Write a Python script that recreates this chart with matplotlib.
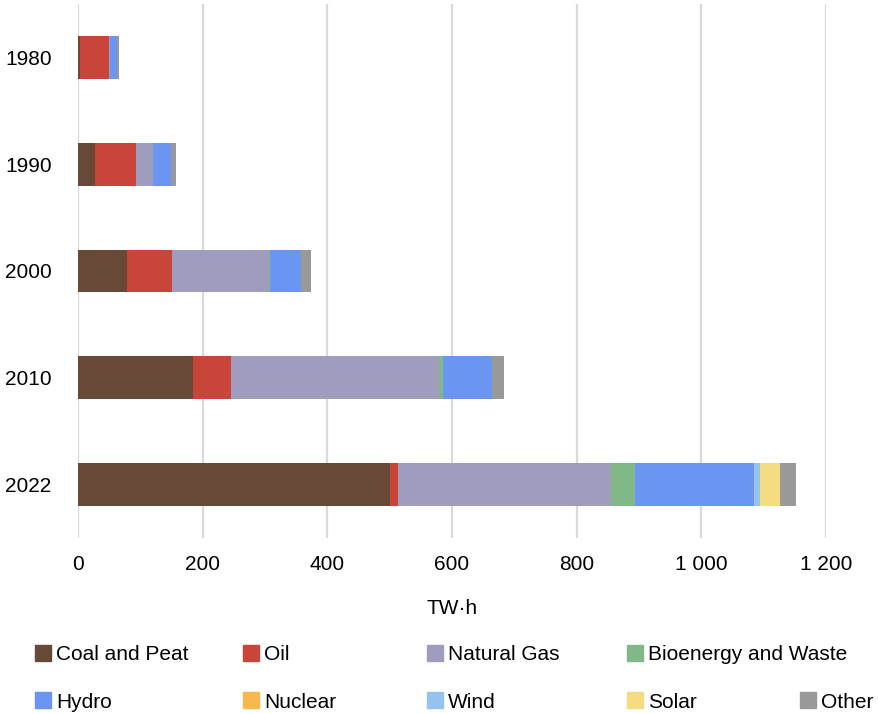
import matplotlib
matplotlib.use("Agg")
import matplotlib.pyplot as plt
from matplotlib.patches import Rectangle
from matplotlib.ticker import FuncFormatter

plt.rcParams['font.family'] = ['Liberation Sans', 'DejaVu Sans']

years = ["1980", "1990", "2000", "2010", "2022"]
sources = ["Coal and Peat", "Oil", "Natural Gas", "Bioenergy and Waste",
           "Hydro", "Nuclear", "Wind", "Solar", "Other"]
coal    = [3, 27, 79, 184, 500]
oil     = [47, 66, 72, 61, 14]
gas     = [1, 27, 155, 334, 341]
bio     = [0, 0, 1.5, 6.5, 38.5]
hydro   = [11, 29, 51, 78, 191]
nuclear = [0, 0, 0, 0, 0]
wind    = [0, 0, 0, 0, 9.5]
solar   = [0, 0, 0, 0, 32]
other   = [3, 7.5, 15.5, 20, 26]
series = [coal, oil, gas, bio, hydro, nuclear, wind, solar, other]
colors = ["#664A37", "#C9453A", "#A09CBE", "#80B888", "#6A95F0",
          "#F5B94E", "#93C3EE", "#F5DC82", "#999999"]

FS = 15
W, H = 879, 714
fig = plt.figure(figsize=(W / 100, H / 100), dpi=100)
ax = fig.add_axes([78 / W, 1 - 538 / H, 748 / W, 534 / H])

ypos = list(range(len(years)))
left = [0.0] * len(years)
for vals, col, name in zip(series, colors, sources):
    ax.barh(ypos, vals, left=left, height=0.40, color=col, label=name, zorder=3)
    left = [l + v for l, v in zip(left, vals)]

ax.set_ylim(len(years) - 0.5, -0.5)
ax.set_xlim(0, 1200)
ax.set_yticks(ypos)
ax.set_yticklabels(years, va="center_baseline")
ax.set_xticks(range(0, 1201, 200))
ax.xaxis.set_major_formatter(FuncFormatter(lambda v, p: f"{int(v):,}".replace(",", " ")))
ax.grid(axis="x", color="#D9D9D9", linewidth=1.6, zorder=0)
for s in ax.spines.values():
    s.set_visible(False)
ax.tick_params(axis="both", length=0, labelsize=FS, colors="#000000")
ax.tick_params(axis="y", pad=19)
ax.tick_params(axis="x", pad=12)
ax.set_xlabel("TW·h", fontsize=FS, labelpad=18)

# legend laid out in two rows
legend_rows = [
    [(0, 35), (1, 243), (2, 427), (3, 627)],
    [(4, 35), (5, 243), (6, 427), (7, 627), (8, 800)],
]
row_y = [653, 700]
for row, yc in zip(legend_rows, row_y):
    for idx, x in row:
        fig.patches.append(Rectangle((x / W, 1 - (yc + 8) / H), 16 / W, 16 / H,
                                     transform=fig.transFigure, color=colors[idx]))
        fig.text((x + 21) / W, 1 - yc / H, sources[idx], fontsize=FS,
                 va="center_baseline", ha="left")

fig.savefig("out.png", dpi=100)
